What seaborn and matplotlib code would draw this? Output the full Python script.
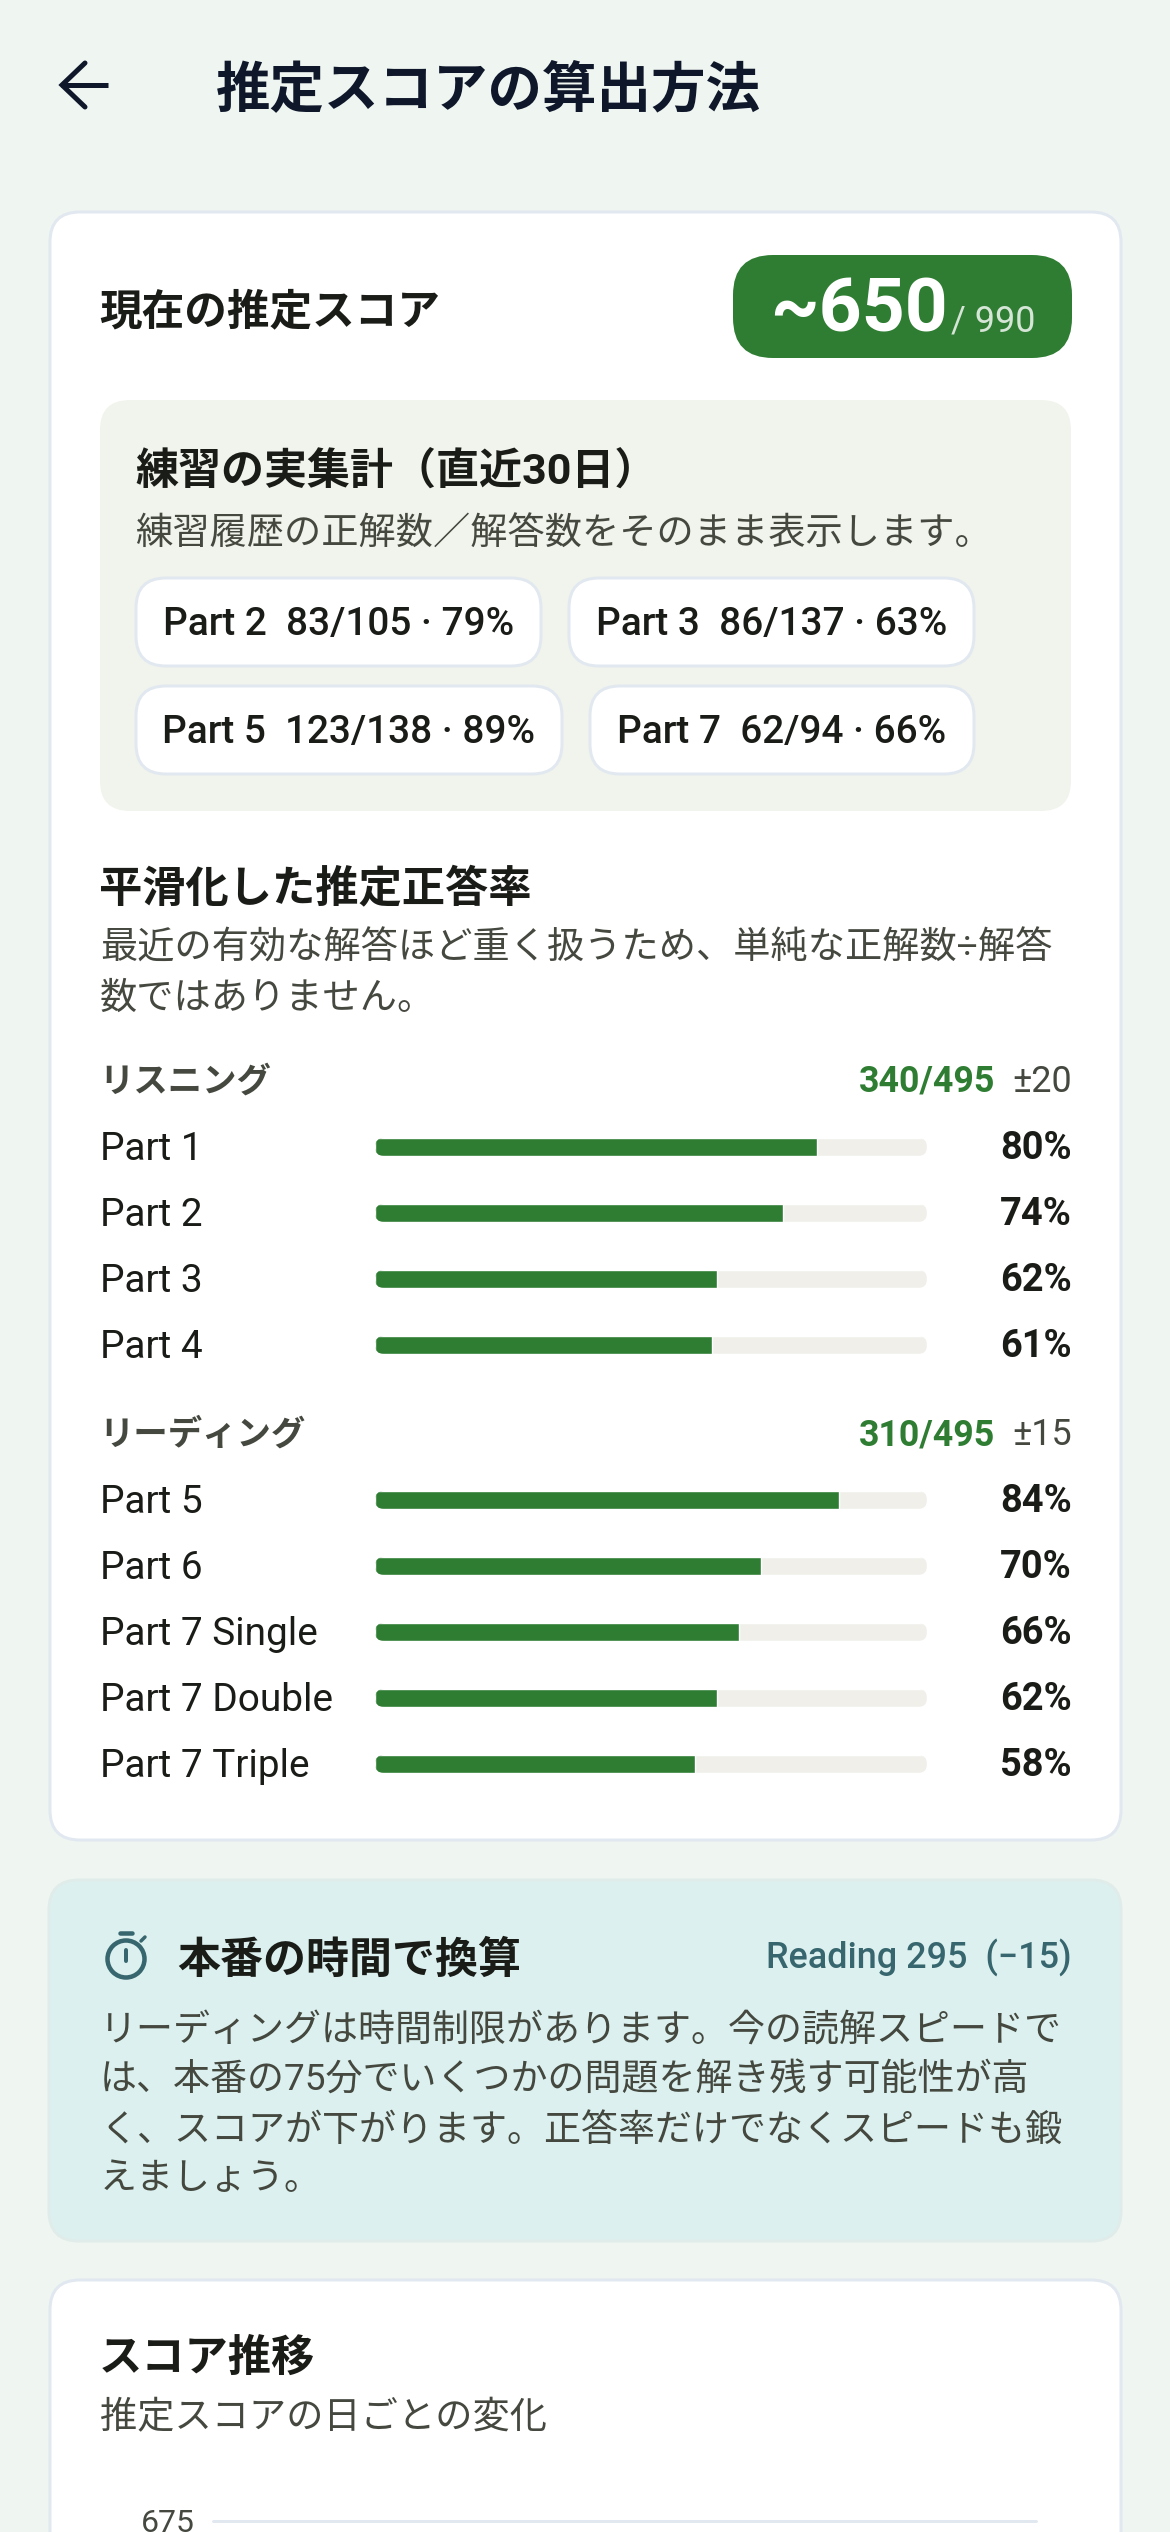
import matplotlib
matplotlib.use("Agg")
import matplotlib.pyplot as plt
import seaborn as sns
import pandas as pd
from matplotlib.patches import FancyBboxPatch, Circle
from matplotlib.transforms import IdentityTransform

# ---- data ----
listening_parts = ["Part 1", "Part 2", "Part 3", "Part 4"]
listening_scores = [80, 74, 62, 61]
reading_parts = ["Part 5", "Part 6", "Part 7 Single", "Part 7 Double", "Part 7 Triple"]
reading_scores = [84, 70, 66, 62, 58]
chip_labels = ["Part 2  83/105 · 79%", "Part 3  86/137 · 63%",
               "Part 5  123/138 · 89%", "Part 7  62/94 · 66%"]
score_ticks = [675]

# ---- colours ----
BG = "#EFF5F1"; GREEN = "#2E7D32"; BORDER = "#E2E8F0"; PANEL = "#F1F4EC"
TRACK = "#F0EFEA"; TEAL_BG = "#DCF1EF"; TEAL = "#37666E"; NAVY = "#0F172A"
DARK = "#1A1C18"; GREY = "#44483F"

sns.set_theme(style="white")
plt.rcParams["font.family"] = ["Roboto", "Noto Sans CJK JP", "DejaVu Sans"]

W, H = 1170, 2532
fig = plt.figure(figsize=(W / 100, H / 100), dpi=100, facecolor=BG)
bg = fig.add_axes([0, 0, 1, 1])
bg.set_xlim(0, W); bg.set_ylim(H, 0); bg.axis("off")


def px(v):
    return v * 0.72


def T(x, y, s, size, color=DARK, weight="normal", ha="left"):
    return bg.text(x, y + 4, s, fontsize=px(size), color=color, fontweight=weight,
                   ha=ha, va="center")


def box(x0, y0, x1, y1, r, fc, ec="none", lw=0):
    p = FancyBboxPatch((x0, y0), x1 - x0, y1 - y0,
                       boxstyle=f"round,pad=0,rounding_size={r}",
                       fc=fc, ec=ec, lw=px(lw), mutation_aspect=1)
    bg.add_patch(p)
    return p


# header
T(216, 87, "推定スコアの算出方法", 54.5, NAVY, "bold")
bg.plot([61, 108], [85, 85], color=NAVY, lw=px(5), solid_capstyle="butt")
bg.plot([85, 62, 85], [63, 85, 107], color=NAVY, lw=px(5), solid_joinstyle="miter")

# card 1
box(50, 212, 1121, 1840, 30, "white", BORDER, 3)
T(99, 309, "現在の推定スコア", 42.6, DARK, "bold")
box(733, 255, 1072, 358, 40, GREEN)
T(770, 308, "~650", 75, "white", "bold")
T(951, 317, "/ 990", 36, "#D5E5D6")

# panel
box(100, 400, 1071, 811, 30, PANEL)
T(135, 469, "練習の実集計（直近30日）", 43, DARK, "bold")
T(135, 531, "練習履歴の正解数／解答数をそのまま表示します。", 37.2, GREY)
chips = [(136, 578, 541, 666), (569, 578, 974, 666),
         (136, 686, 562, 774), (590, 686, 974, 774)]
for (x0, y0, x1, y1), lab in zip(chips, chip_labels):
    box(x0, y0, x1, y1, 30, "white", BORDER, 3)
    T((x0 + x1) / 2, (y0 + y1) / 2 - 1.5, lab, 38.7, DARK, "medium", ha="center")

# smoothed section
T(99, 885, "平滑化した推定正答率", 43.3, DARK, "bold")
T(100, 945, "最近の有効な解答ほど重く扱うため、単純な正解数÷解答", 37.2, GREY)
T(100, 995, "数ではありません。", 37.2, GREY)


def section(title, score, pm, head_y, parts, scores, first_y):
    T(99, head_y - 1, title, 34.4, GREY, "bold")
    T(1072, head_y - 1, pm, 36, GREY, ha="right")
    T(995, head_y - 1, score, 35.7, GREEN, "bold", ha="right")
    step = 66
    n = len(parts)
    top = first_y - step / 2
    ax = fig.add_axes([375 / W, 1 - (top + n * step) / H, 552 / W, n * step / H])
    ax.patch.set_alpha(0)
    df = pd.DataFrame({"part": parts, "score": scores, "track": [100] * n})
    sns.barplot(data=df, y="part", x="track", color=TRACK, width=18 / step,
                saturation=1, ax=ax)
    sns.barplot(data=df, y="part", x="score", color=GREEN, width=18 / step,
                saturation=1, ax=ax)
    ax.set_xlim(0, 100)
    ax.set_xlabel(""); ax.set_ylabel(""); ax.set_xticks([])
    sns.despine(ax=ax, left=True, bottom=True)
    ax.tick_params(axis="y", left=False, labelleft=False, length=0)
    tf = ax.get_yaxis_transform()
    for i, (name, v) in enumerate(zip(parts, scores)):
        ax.text((100 - 375) / 552, i + 0.04, name, transform=tf, ha="left", va="center",
                fontsize=px(38.7), color=DARK)
        ax.text((1072 - 375) / 552, i + 0.02, f"{v}%", transform=tf, ha="right",
                va="center", fontsize=px(38), fontweight="bold", color=DARK)
    fig.canvas.draw()
    tracks = ax.patches[:n]
    fills = ax.patches[n:]
    for tr, fl in zip(tracks, fills):
        bb = tr.get_window_extent()
        clip = FancyBboxPatch((bb.x0, bb.y0), bb.width, bb.height,
                              boxstyle="round,pad=0,rounding_size=9",
                              transform=IdentityTransform())
        tr.set_clip_path(clip)
        fl.set_clip_path(clip)


section("リスニング", "340/495", "±20", 1079, listening_parts, listening_scores, 1147)
section("リーディング", "310/495", "±15", 1432, reading_parts, reading_scores, 1500)

# card 2
box(49, 1880, 1121, 2241, 30, TEAL_BG, "#DFECEA", 3)
bg.add_patch(Circle((126, 1959), 18.5, fc="none", ec=TEAL, lw=px(4.5)))
bg.plot([126, 126], [1950, 1961], color=TEAL, lw=px(4))
bg.plot([120, 132], [1933, 1933], color=TEAL, lw=px(4.5))
bg.plot([141, 145], [1941, 1937], color=TEAL, lw=px(3.5))
T(177, 1957, "本番の時間で換算", 43, DARK, "bold")
T(1072, 1954, "Reading 295  (−15)", 36, TEAL, "medium", ha="right")
for y, line in zip([2028, 2077, 2127, 2175],
                   ["リーディングは時間制限があります。今の読解スピードで",
                    "は、本番の75分でいくつかの問題を解き残す可能性が高",
                    "く、スコアが下がります。正答率だけでなくスピードも鍛",
                    "えましょう。"]):
    T(100, y, line, 37, GREY)

# card 3
box(50, 2280, 1121, 2600, 30, "white", BORDER, 3)
T(99, 2355, "スコア推移", 43.3, DARK, "bold")
T(100, 2414, "推定スコアの日ごとの変化", 37.2, GREY)
top_y = 2521
ax3 = fig.add_axes([213 / W, 1 - (top_y + 300) / H, (1036 - 213) / W, 300 / H])
ax3.patch.set_alpha(0)
ax3.set_xlim(0, 1); ax3.set_ylim(600, score_ticks[0])
ax3.set_yticks(score_ticks); ax3.set_xticks([])
ax3.grid(axis="y", color=BORDER, lw=px(3))
ax3.tick_params(axis="y", left=False, length=0, pad=px(18), labelsize=px(32),
                labelcolor=GREY)
sns.despine(ax=ax3, left=True, bottom=True)
for g in ax3.get_ygridlines():
    g.set_clip_on(False)

fig.savefig("out.png", dpi=100, facecolor=BG)
